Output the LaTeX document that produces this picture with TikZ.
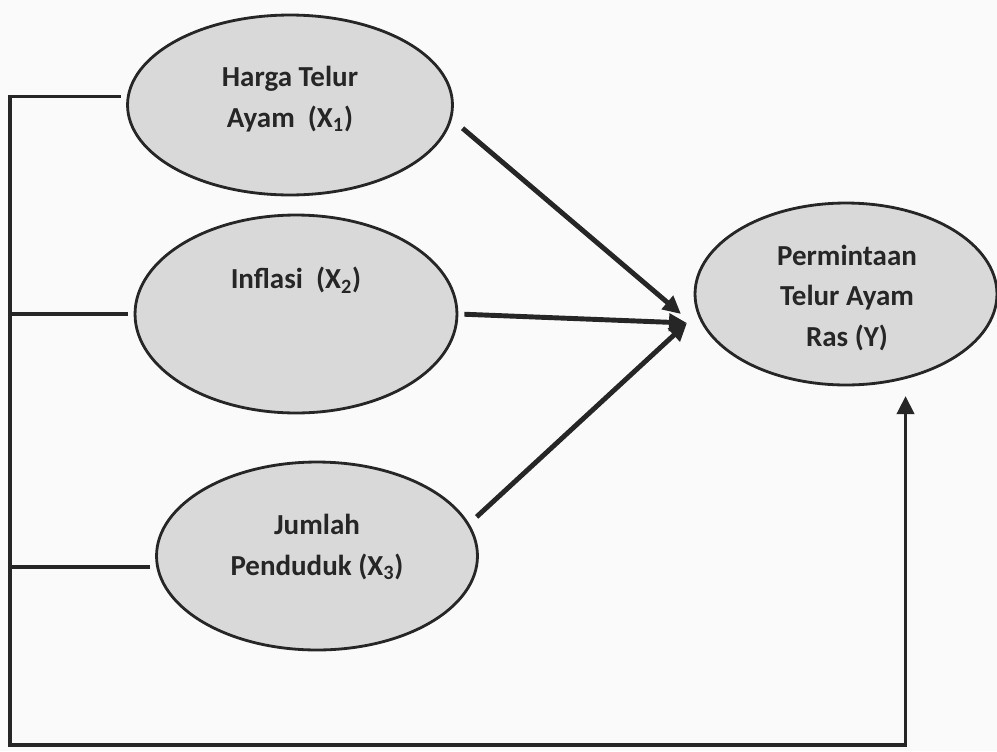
\documentclass[tikz,border=0pt]{standalone}
\usepackage{fontspec}
\setmainfont{Carlito}
\usetikzlibrary{shapes.geometric, arrows.meta}

\begin{document}
\begin{tikzpicture}[
        x=0.02cm, y=-0.02cm, % 1 unit = 1 pixel of the reference
        oval/.style={ellipse, draw=black!85, line width=1.6pt, fill=gray!30, inner sep=0pt}, % Variable nodes
        lbl/.style={font=\bfseries\fontsize{16.5}{23}\selectfont, text=black!85, align=center},
        rail/.style={draw=black!85, line width=2.2pt},
        path/.style={draw=black!85, line width=2.8pt, -{Triangle[length=0.36cm, width=0.34cm]}},
    ]
    \useasboundingbox[fill=gray!4] (0,0) rectangle (997,751);

    % Variables
    \node[oval, minimum width=6.5cm, minimum height=3.6cm] (x1) at (290,105) {};
    \node[lbl] (x1lbl) at (290,99) {Harga Telur\\Ayam~ (X\textsubscript{1})};
    \node[oval, minimum width=6.44cm, minimum height=3.96cm] (x2) at (296,314) {};
    \node[lbl] (x2lbl) at (296,280) {Inflasi~ (X\textsubscript{2})};
    \node[oval, minimum width=6.42cm, minimum height=3.76cm] (x3) at (317,556) {};
    \node[lbl] (x3lbl) at (317,547) {Jumlah\\Penduduk (X\textsubscript{3})};
    \node[oval, minimum width=6.04cm, minimum height=3.64cm] (y) at (846,294) {};
    \node[lbl] (ylbl) at (847,298) {Permintaan\\Telur Ayam\\Ras (Y)};

    \coordinate (tip1) at (681,314);
    \coordinate (hub) at (687,323);
    \coordinate (corner) at (10,745);

    % Partial effects
    \draw[path, shorten <=0.28cm] (x1.-5) -- (tip1);
    \draw[path, shorten <=0.12cm] (x2.east) -- (hub);
    \draw[path, shorten <=0.2cm] (x3.12) -- (hub);

    % Joint effect
    \draw[rail, shorten <=0.12cm] (x2.west) -- (x2.west -| corner);
    \draw[rail, shorten <=0.12cm] (x3.184) -- (x3.184 -| corner);
    \draw[rail, -{Triangle[length=0.36cm, width=0.34cm]}, shorten <=0.12cm, shorten >=0.34cm]
        (x1.177) -- (x1.177 -| corner) -- (corner) -| (y.-55);
\end{tikzpicture}
\end{document}
